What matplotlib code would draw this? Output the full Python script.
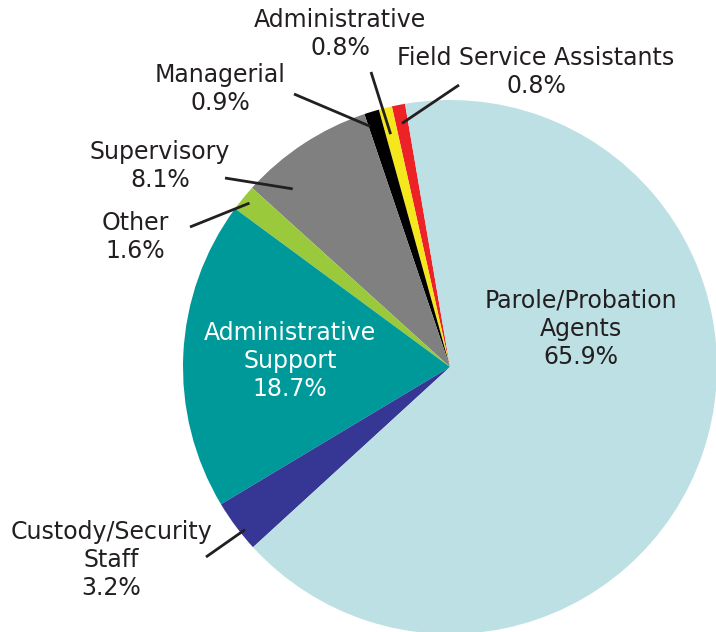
import numpy as np
import matplotlib.pyplot as plt

# slice data, counter-clockwise from the top
labels = ["Field Service Assistants", "Administrative", "Managerial", "Supervisory",
          "Other", "Administrative\nSupport", "Custody/Security\nStaff",
          "Parole/Probation\nAgents"]
shares = [0.8, 0.8, 0.9, 8.1, 1.6, 18.7, 3.2, 65.9]
colors = ["#ec2227", "#f4e81c", "#000000", "#808080", "#9bc93c", "#009999",
          "#363795", "#bde0e4"]

W, H = 716, 632
cx, cy, R = 450, H - 367, 267
start = 99.7

fig = plt.figure(figsize=(W / 100, H / 100), dpi=100)
ax = fig.add_axes([0, 0, 1, 1])

wedges, _ = ax.pie(shares, colors=colors, startangle=start, counterclock=True,
                   center=(cx, cy), radius=R, frame=True,
                   wedgeprops=dict(linewidth=0))
ax.set_xlim(0, W)
ax.set_ylim(0, H)
ax.set_aspect("equal")
ax.axis("off")

txt = "#231f20"
fs = 17
ls = 1.22

# outside labels: (index, position in wedge, radius fraction, line start, text center)
outside = [
    (0, 0.5, 0.93, (459, 85), (536, 72)),
    (1, 0.6, 0.90, (371, 72), (340, 34)),
    (2, 0.9, 0.95, (294, 94), (220, 89)),
    (3, 0.78, 0.89, (225, 178), (160, 166)),
    (4, 0.5, 0.97, (190, 227), (135, 237)),
    (6, 0.65, 0.98, (206, 557), (111, 560)),
]
for i, f, rf, (lx, ly), (tx, ty) in outside:
    w = wedges[i]
    ang = np.deg2rad(w.theta1 + f * (w.theta2 - w.theta1))
    px, py = cx + rf * R * np.cos(ang), cy + rf * R * np.sin(ang)
    ax.plot([lx, px], [H - ly, py], color=txt, lw=2, solid_capstyle="butt")
    ax.text(tx, H - ty, f"{labels[i]}\n{shares[i]}%", ha="center", va="center",
            fontsize=fs, color=txt, linespacing=ls)

ax.text(581, H - 329, f"{labels[7]}\n{shares[7]}%", ha="center", va="center",
        fontsize=fs, color=txt, linespacing=ls)
ax.text(290, H - 361, f"{labels[5]}\n{shares[5]}%", ha="center", va="center",
        fontsize=fs, color="white", linespacing=ls)

fig.savefig("out.png", dpi=100)
